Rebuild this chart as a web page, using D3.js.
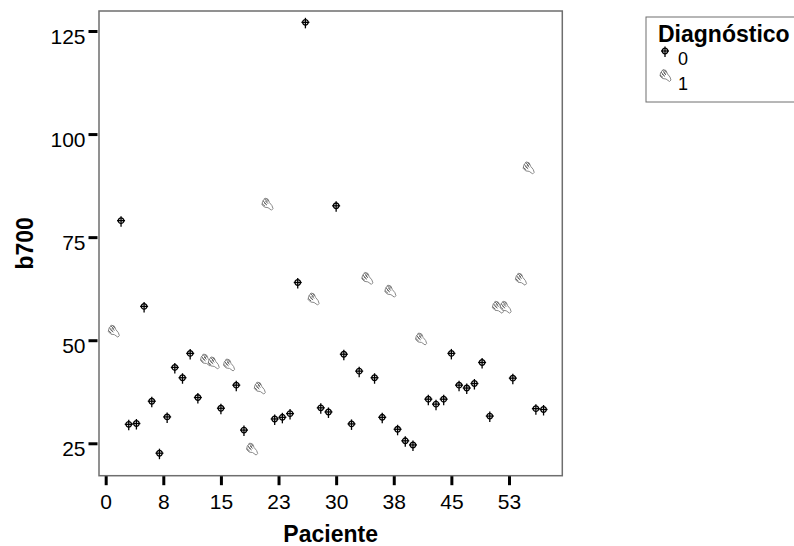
<!DOCTYPE html>
<html>
<head>
<meta charset="utf-8">
<script src="https://cdn.jsdelivr.net/npm/d3@7"></script>
<style>
  body { margin: 0; background: #fff; }
  text { font-family: Arial, "Liberation Sans", sans-serif; }
</style>
</head>
<body>
<div id="my_dataviz"></div>
<script>
// data
var paciente = [1,2,3,4,5,6,7,8,9,10,11,12,13,14,15,16,17,18,19,20,
  21,22,23,24,25,26,27,28,29,30,31,32,33,34,35,36,37,38,39,40,
  41,42,43,44,45,46,47,48,49,50,51,52,53,54,55,56,57];
var b700 = [52.2,79.0,29.6,29.8,58.2,35.2,22.6,31.4,43.4,40.9,46.8,36.1,45.2,44.5,33.5,44.0,39.1,28.2,23.6,38.4,
  83.0,30.9,31.3,32.2,64.0,127.1,60.0,33.6,32.6,82.6,46.6,29.7,42.5,65.0,40.9,31.3,61.9,28.4,25.6,24.6,
  50.3,35.7,34.5,35.7,46.8,39.1,38.4,39.5,44.6,31.6,58.0,58.0,40.8,64.8,91.8,33.4,33.2];
var diagnostico = [1,0,0,0,0,0,0,0,0,0,0,0,1,1,0,1,0,0,1,1,
  1,0,0,0,0,0,1,0,0,0,0,0,0,1,0,0,1,0,0,0,
  1,0,0,0,0,0,0,0,0,0,1,1,0,1,1,0,0];
var xTickValues = [0,7.5,15,22.5,30,37.5,45,52.5];
var xTickLabels = ["0","8","15","23","30","38","45","53"];
var yTickValues = [25,50,75,100,125];
var legendLabels = ["0","1"];

var data = paciente.map(function(p, i) {
  return { p: p, v: b700[i], d: diagnostico[i] };
});

var width = 794, height = 546;
var svg = d3.select("#my_dataviz")
  .append("svg")
    .attr("width", width)
    .attr("height", height);

var plot = {left: 99, top: 11, right: 562.3, bottom: 475.7};

var x = d3.scaleLinear()
  .domain([-0.87, 59.44])
  .range([plot.left, plot.right]);
var y = d3.scaleLinear()
  .domain([17.14, 129.85])
  .range([plot.bottom, plot.top]);

// frame
svg.append("rect")
  .attr("x", plot.left).attr("y", plot.top)
  .attr("width", plot.right - plot.left)
  .attr("height", plot.bottom - plot.top)
  .attr("fill", "none")
  .attr("stroke", "#6e6e6e")
  .attr("stroke-width", 1.5);

// Y axis
var yAxis = svg.append("g")
  .attr("transform", "translate(" + (plot.left - 1.5) + ",0)")
  .call(d3.axisLeft(y).tickValues(yTickValues).tickSize(9).tickPadding(3));
yAxis.select(".domain").remove();
yAxis.selectAll(".tick line").attr("stroke", "#000").attr("stroke-width", 3);
yAxis.selectAll(".tick text")
  .attr("font-size", 21).attr("fill", "#000")
  .attr("dy", "0.6em")
  .attr("font-family", "Arial, 'Liberation Sans', sans-serif");

// X axis
var xAxis = svg.append("g")
  .attr("transform", "translate(0," + (plot.bottom + 0.5) + ")")
  .call(d3.axisBottom(x).tickValues(xTickValues)
    .tickFormat(function(d, i) { return xTickLabels[i]; })
    .tickSize(9).tickPadding(9));
xAxis.select(".domain").remove();
xAxis.selectAll(".tick line").attr("stroke", "#000").attr("stroke-width", 3);
xAxis.selectAll(".tick text")
  .attr("font-size", 21).attr("fill", "#000")
  .attr("font-family", "Arial, 'Liberation Sans', sans-serif");

// axis titles
svg.append("text")
  .attr("x", (plot.left + plot.right) / 2)
  .attr("y", 542)
  .attr("text-anchor", "middle")
  .attr("font-size", 23).attr("font-weight", "bold")
  .text("Paciente");
svg.append("text")
  .attr("transform", "translate(33," + ((plot.top + plot.bottom) / 2) + ") rotate(-90)")
  .attr("text-anchor", "middle")
  .attr("font-size", 23).attr("font-weight", "bold")
  .text("b700");

// marker glyphs
function drawCross(g) {
  g.append("line").attr("x1", -4).attr("x2", 4).attr("y1", 0).attr("y2", 0);
  g.append("line").attr("x1", 0).attr("x2", 0).attr("y1", -4.5).attr("y2", 6);
  g.append("circle").attr("r", 2.8).attr("fill", "none");
  g.attr("stroke", "#000").attr("stroke-width", 1.3);
}
function drawHand(g) {
  // thumb / palm outline
  g.append("path")
    .attr("d", "M-4.5,-2.5 L-2,-6 L1,-5 L2.5,-1.5 L5,1.5 L6,4.5 L4.5,6 L1,3.5 L-2.5,3 L-5,0.5 Z")
    .attr("fill", "#fff")
    .attr("stroke", "#8a8a8a");
  // fingers
  g.append("path")
    .attr("d", "M-4,-3.5 L-1,0 M-2.5,-5.5 L0.5,-2 M-0.5,-5.5 L1.5,-3 M-5,-0.5 L-2,2 M-3,-1.5 L0,1 M-1.5,-3 L1,-0.5")
    .attr("stroke", "#666");
  g.attr("stroke-width", 1).attr("fill", "none");
}

// points
svg.append("g")
  .selectAll("g")
  .data(data)
  .enter()
  .append("g")
    .attr("transform", function(d) { return "translate(" + x(d.p) + "," + y(d.v) + ")"; })
    .each(function(d) {
      if (d.d === 0) drawCross(d3.select(this));
      else drawHand(d3.select(this));
    });

// legend
var legend = svg.append("g");
legend.append("rect")
  .attr("x", 646).attr("y", 17)
  .attr("width", 160).attr("height", 85)
  .attr("fill", "none")
  .attr("stroke", "#6e6e6e")
  .attr("stroke-width", 1);
legend.append("text")
  .attr("x", 658).attr("y", 42)
  .attr("font-size", 23).attr("font-weight", "bold")
  .text("Diagnóstico");
legendLabels.forEach(function(lab, i) {
  var gy = 51 + i * 24.5;
  var g = legend.append("g").attr("transform", "translate(665," + gy + ")");
  if (i === 0) drawCross(g); else drawHand(g);
  legend.append("text")
    .attr("x", 678).attr("y", 65 + i * 25)
    .attr("font-size", 18)
    .text(lab);
});
</script>
</body>
</html>
